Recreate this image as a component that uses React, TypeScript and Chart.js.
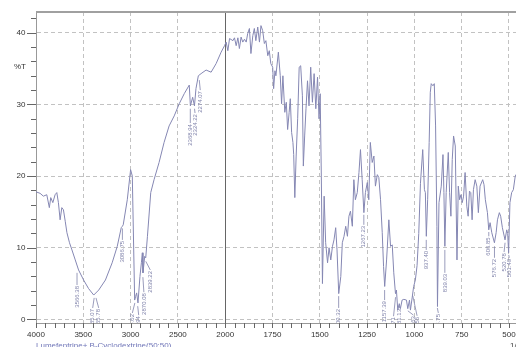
import React, { useEffect, useRef } from 'react';
import { Chart, registerables } from 'chart.js';
Chart.register(...registerables);

// ---- spectrum data (wavenumber in 1/cm, transmittance in %T) ----
const wavenumbers = [
  4000, 3993, 3957, 3922, 3886, 3859, 3844, 3822, 3798, 3780, 3763, 3745, 3727, 3710, 3691, 3673, 3646, 3620,
  3585, 3550, 3497, 3444, 3390, 3337, 3266, 3195, 3141, 3099, 3087, 3078, 3035, 3000, 2982, 2957, 2947, 2936,
  2922, 2901, 2886, 2876, 2869, 2851, 2840, 2822, 2787, 2752, 2699, 2646, 2593, 2539, 2486, 2433, 2380, 2368,
  2344, 2325, 2309, 2284, 2255, 2202, 2149, 2096, 2043, 2007,
  1995, 1986, 1977, 1959, 1951, 1942, 1933, 1925, 1916, 1907, 1898, 1889, 1881, 1872, 1864, 1854, 1846, 1838,
  1828, 1819, 1811, 1802, 1793, 1785, 1775, 1767, 1759, 1749, 1744, 1737, 1732, 1719, 1709, 1702, 1695, 1685,
  1677, 1670, 1662, 1656, 1649, 1642, 1638, 1632, 1625, 1617, 1609, 1601, 1592, 1587, 1580, 1573, 1565, 1557,
  1548, 1539, 1530, 1521, 1512, 1504, 1498, 1492, 1486, 1477, 1469, 1459, 1451, 1442, 1433, 1425, 1416, 1409,
  1400, 1389, 1381, 1372, 1363, 1354, 1346, 1338, 1328, 1320, 1312, 1302, 1293, 1285, 1276, 1267, 1259, 1249,
  1241, 1233, 1223, 1214, 1206, 1196, 1188, 1179, 1170, 1163, 1157, 1147, 1135, 1126, 1117, 1109, 1100, 1095,
  1088, 1080, 1074, 1065, 1056, 1042, 1035, 1026, 1021, 1012, 1004, 995, 986, 977, 968, 956, 947, 942, 937, 930,
  922, 916, 911, 902, 895, 888, 881, 878, 870, 858, 849, 844, 839, 832, 821, 814, 807, 800, 793, 784, 775, 768,
  761, 754, 747, 740, 732, 723, 716, 709, 702, 695, 688, 679, 670, 662, 653, 639, 632, 625, 614, 607, 600, 591,
  577, 568, 561, 551, 544, 535, 521, 512, 507, 502, 495, 486, 477, 467, 460,
];
const transmittance = [
  17.8, 17.8, 17.6, 17.2, 17.4, 15.6, 17.0, 16.3, 17.4, 17.7, 16.3, 13.9, 15.6, 15.3, 13.7, 12.1, 10.7, 9.7,
  8.3, 6.9, 5.5, 4.3, 3.4, 4.1, 5.5, 7.9, 10.2, 12.8, 13.0, 13.2, 16.7, 20.9, 20.0, 2.7, 3.2, 3.7,
  2.3, 6.0, 7.9, 9.3, 6.5, 8.8, 8.6, 11.6, 17.7, 19.5, 21.9, 24.7, 27.0, 28.4, 30.1, 31.5, 32.7, 29.8,
  31.0, 29.8, 32.2, 34.0, 34.3, 34.8, 34.5, 35.7, 37.3, 38.2,
  38.7, 37.5, 39.2, 38.9, 39.3, 38.2, 39.3, 37.8, 39.4, 38.7, 39.1, 38.7, 39.9, 40.6, 37.1, 39.6, 40.6, 38.9,
  40.8, 38.7, 41.0, 40.3, 38.5, 38.9, 36.8, 37.5, 35.7, 35.2, 32.2, 34.7, 34.0, 37.3, 34.0, 30.1, 34.0, 28.9,
  30.3, 26.5, 28.9, 30.8, 26.1, 24.7, 23.0, 17.0, 22.8, 28.0, 35.2, 35.4, 31.2, 21.4, 25.6, 29.4, 33.3, 29.8,
  35.2, 30.3, 34.3, 29.4, 33.8, 28.0, 31.5, 20.0, 5.0, 17.2, 10.7, 7.9, 10.0, 8.3, 10.2, 11.1, 12.8, 9.7,
  3.6, 6.0, 10.7, 11.6, 13.0, 11.6, 14.4, 15.1, 13.0, 19.5, 16.7, 17.7, 20.5, 23.7, 19.5, 14.9, 17.7, 19.1,
  16.7, 24.7, 21.9, 22.8, 18.6, 20.2, 19.8, 16.7, 12.1, 7.4, 4.6, 8.3, 13.9, 10.2, 10.4, 6.5, 3.6, 4.1,
  1.3, 2.2, 1.5, 2.7, 2.8, 2.7, 1.5, 2.7, 1.3, 3.0, 4.6, 5.5, 7.5, 12.0, 19.0, 23.7, 18.1, 17.7, 11.6, 16.7,
  24.7, 31.7, 32.9, 32.6, 32.9, 27.0, 13.0, 1.8, 16.3, 18.6, 23.0, 17.7, 10.2, 17.7, 23.3, 17.7, 14.4, 22.3, 25.6, 24.2, 8.3, 18.6,
  16.7, 17.4, 16.3, 17.2, 20.5, 15.8, 14.4, 17.9, 17.7, 13.9, 18.1, 19.5, 18.6, 14.9, 18.6, 19.5, 18.8, 16.7, 14.9, 12.5, 13.5, 12.1,
  10.7, 12.1, 13.9, 14.9, 14.4, 12.8, 11.1, 12.5, 12.0, 9.3, 16.3, 17.7, 18.1, 20.0, 20.3,
];

// ---- axis tick labels ----
const xLabelValues = [4000, 3500, 3000, 2500, 2000, 1750, 1500, 1250, 1000, 750, 500];
const yLabelValues = [0, 10, 20, 30, 40];

// ---- peak annotations ----
const peakWn = [3566.38, 3385.07, 3365.78, 3086.75, 2955.02, 2924.94, 2870.08, 2839.22, 2368.94, 2324.22, 2274.07,
  1400.32, 1267.23, 1157.39, 1099.71, 1081.13, 1034.63, 1008.56, 937.40, 878.75, 839.03, 606.85, 576.72, 520.78, 501.49];
const peakLeaderStart = [6.5, 3.0, 3.0, 12.7, 2.3, 1.85, 5.9, 8.1, 29.4, 29.4, 33.4,
  3.25, 14.6, 4.1, 3.1, 1.95, 1.2, 3.3, 11.1, 1.6, 9.7, 12.2, 10.2, 10.7, 9.0];
const peakLabelTop = [4.8, 1.6, 1.6, 11.1, 0.9, 0.6, 3.8, 6.9, 27.4, 28.8, 32.0,
  1.6, 13.2, 2.7, 0.45, 1.6, 0.6, 0.5, 9.7, 0.9, 6.5, 11.6, 8.6, 9.4, 8.6];
const peakLabelShift = [0, -1.5, 2.7, 0, -2.5, 1, 1, 4.5, 0, 0.5, 1,
  0, 0, 0, -2, 0.7, 5.6, 4.3, 0, 1, 0, 0, 0, -1, 0.6];

const sampleName = 'Lumefentrine+ B-Cyclodextrine(50:50)';
const xUnit = '1/cm';
const yUnit = '%T';

// IR chart x-axis: 4000-2000 compressed by 2 relative to 2000-400
const toU = (wn: number) => (wn >= 2000 ? (4000 - wn) / 2 : 1000 + (2000 - wn));
const fromU = (u: number) => (u <= 1000 ? 4000 - 2 * u : 2000 - (u - 1000));

const minorTicks: number[] = [];
for (let w = 4000; w > 2000; w -= 100) minorTicks.push(w);
for (let w = 2000; w >= 500; w -= 50) minorTicks.push(w);

const FONT = "'Liberation Sans', Arial, sans-serif";
const LINE = '#8587b3';
const LABEL = '#8083ab';

const extras = {
  id: 'irExtras',
  afterDatasetsDraw(chart: any) {
    const { ctx, chartArea, scales } = chart;
    const xs = scales.x, ys = scales.y;
    ctx.save();
    ctx.beginPath();
    ctx.rect(chartArea.left, chartArea.top, chartArea.right - chartArea.left, chartArea.bottom - chartArea.top);
    ctx.clip();
    ctx.strokeStyle = LABEL;
    ctx.fillStyle = LABEL;
    ctx.lineWidth = 0.8;
    ctx.font = `6px ${FONT}`;
    peakWn.forEach((wn, i) => {
      const x0 = xs.getPixelForValue(toU(wn));
      const y0 = ys.getPixelForValue(peakLeaderStart[i]);
      const x1 = x0 + peakLabelShift[i];
      const y1 = ys.getPixelForValue(peakLabelTop[i]);
      ctx.beginPath();
      ctx.moveTo(x0, y0);
      ctx.lineTo(x1, y1);
      ctx.stroke();
      ctx.save();
      ctx.translate(x1, y1 + 1);
      ctx.rotate(-Math.PI / 2);
      ctx.textAlign = 'right';
      ctx.textBaseline = 'middle';
      ctx.fillText(wn.toFixed(2), 0, 0);
      ctx.restore();
    });
    ctx.restore();
  },
  afterDraw(chart: any) {
    const { ctx, chartArea, scales } = chart;
    const xs = scales.x, ys = scales.y;
    ctx.save();
    // top frame
    ctx.strokeStyle = '#a0a0a0';
    ctx.lineWidth = 2;
    ctx.beginPath();
    ctx.moveTo(chartArea.left, chartArea.top);
    ctx.lineTo(chartArea.right, chartArea.top);
    ctx.stroke();
    // tick marks
    ctx.strokeStyle = '#666';
    ctx.lineWidth = 1;
    xs.ticks.forEach((t: any) => {
      const x = Math.round(xs.getPixelForValue(t.value)) + 0.5;
      ctx.beginPath();
      ctx.moveTo(x, chartArea.bottom);
      ctx.lineTo(x, chartArea.bottom + 5);
      ctx.stroke();
    });
    ys.ticks.forEach((t: any) => {
      const y = Math.round(ys.getPixelForValue(t.value)) + 0.5;
      const major = yLabelValues.includes(Math.round(t.value));
      ctx.beginPath();
      ctx.moveTo(chartArea.left - (major ? 9 : 5), y);
      ctx.lineTo(chartArea.left, y);
      ctx.stroke();
    });
    // texts
    ctx.font = `8px ${FONT}`;
    ctx.fillStyle = '#333';
    ctx.textBaseline = 'middle';
    ctx.textAlign = 'left';
    ctx.fillText(yUnit, 14, 67);
    ctx.textBaseline = 'top';
    ctx.fillStyle = '#7076b8';
    ctx.fillText(sampleName, chartArea.left, 342);
    ctx.fillStyle = '#444';
    ctx.fillText(xUnit, 510, 342);
    ctx.restore();
  },
};

export default function App() {
  const ref = useRef<HTMLCanvasElement | null>(null);
  useEffect(() => {
    document.body.style.margin = '0';
    const canvas = ref.current;
    if (!canvas) return;
    Chart.defaults.font.family = FONT;
    const chart = new Chart(canvas, {
      type: 'line',
      data: {
        datasets: [
          {
            data: wavenumbers.map((w, i) => ({ x: toU(w), y: transmittance[i] })),
            borderColor: LINE,
            borderWidth: 1,
            pointRadius: 0,
            tension: 0,
            fill: false,
          },
        ],
      },
      options: {
        animation: false,
        responsive: false,
        events: [],
        layout: { padding: { top: 12, left: 0, right: 0, bottom: 0 } },
        plugins: { legend: { display: false }, tooltip: { enabled: false } },
        scales: {
          x: {
            type: 'linear',
            min: 0,
            max: 2537,
            afterBuildTicks: (s: any) => {
              s.ticks = minorTicks.map((w) => ({ value: toU(w) }));
            },
            afterFit: (s: any) => {
              s.height = 24;
              s.paddingLeft = 0;
              s.paddingRight = 0;
            },
            ticks: {
              autoSkip: false,
              maxRotation: 0,
              minRotation: 0,
              padding: 7,
              color: '#333',
              font: { size: 8 },
              callback: (v: any) => {
                const w = Math.round(fromU(Number(v)));
                return xLabelValues.includes(w) ? String(w) : '';
              },
            },
            grid: {
              drawTicks: false,
              lineWidth: 1,
              color: (c: any) => {
                if (!c.tick) return 'rgba(0,0,0,0)';
                const w = Math.round(fromU(c.tick.value));
                if (w === 2000) return '#666';
                if (w === 4000) return 'rgba(0,0,0,0)';
                return xLabelValues.includes(w) ? '#c2c2c2' : 'rgba(0,0,0,0)';
              },
            },
            border: {
              display: true,
              color: '#999',
              width: 1,
              dash: (c: any) => (c.tick && Math.round(fromU(c.tick.value)) === 2000 ? [] : [4, 3]),
            },
          },
          y: {
            type: 'linear',
            min: -0.5,
            max: 42.9,
            afterFit: (s: any) => {
              s.width = 36;
              s.paddingTop = 0;
              s.paddingBottom = 0;
            },
            ticks: {
              stepSize: 2,
              includeBounds: false,
              autoSkip: false,
              padding: 10.5,
              color: '#333',
              font: { size: 8 },
              callback: (v: any) => {
                const r = Math.round(Number(v));
                return yLabelValues.includes(r) ? String(r) : '';
              },
            },
            grid: {
              drawTicks: false,
              lineWidth: 1,
              color: (c: any) =>
                c.tick && yLabelValues.includes(Math.round(c.tick.value)) ? '#c2c2c2' : 'rgba(0,0,0,0)',
            },
            border: { display: true, color: '#999', width: 1, dash: [4, 3] },
          },
        },
      } as any,
      plugins: [extras],
    });
    return () => chart.destroy();
  }, []);
  return (
    <div style={{ width: 516, height: 347, overflow: 'hidden', background: '#fff' }}>
      <canvas ref={ref} width={516} height={347} style={{ display: 'block' }} />
    </div>
  );
}
